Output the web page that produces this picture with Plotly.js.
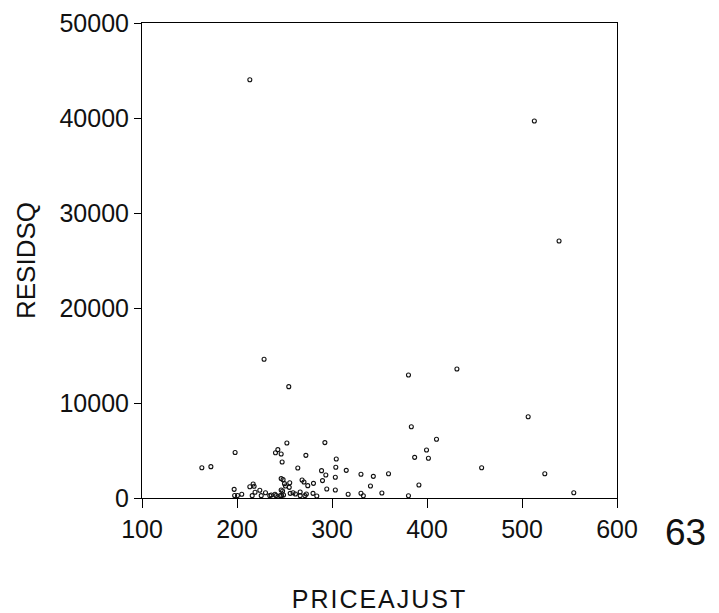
<!DOCTYPE html>
<html>
<head>
<meta charset="utf-8">
<script src="https://cdn.plot.ly/plotly-3.0.1.min.js"></script>
<style>
  html, body { margin: 0; padding: 0; background: #fff; }
  #chart { width: 719px; height: 613px; }
  #chart .xtitle { letter-spacing: 2px; }
</style>
</head>
<body>
<div id="chart"></div>
<script>
// Adjusted price (x) against squared residual (y), one entry per observation
const priceAdjust = [
  163, 172.5, 198, 197, 197.5, 200.5, 205, 213.5, 228.5, 254.5,
  213.5, 217, 218, 216, 219, 224, 225.5, 230, 234.5, 236,
  240, 241, 240.5, 243, 246.5, 247.5, 252.5, 246.5, 248.5, 250,
  251, 255.5, 246.5, 248, 245.5, 247, 249, 255, 256, 259,
  261.5, 266.5, 268.5, 270.5, 274.5, 280.5, 266.5, 271.5, 273, 280,
  284, 264, 272.5, 292.5, 289, 293.5, 290, 294.5, 304.5, 304,
  315, 303.5, 303.5, 317, 330.5, 343.5, 359.5, 340.5, 330.5, 333,
  352.5, 380.5, 383.5, 410, 399.5, 387, 401.5, 391.5, 380.5, 431.5,
  457.5, 506.5, 524, 554.5, 513, 539
];
const residSq = [
  3190, 3300, 4790, 910, 270, 270, 400, 44030, 14600, 11720,
  1190, 1470, 1230, 245, 600, 810, 245, 560, 245, 320,
  390, 245, 4770, 5090, 4630, 3790, 5790, 2040, 1930, 1510,
  1260, 1610, 840, 740, 245, 245, 320, 1120, 490, 560,
  420, 630, 1900, 1680, 1300, 1540, 245, 245, 420, 490,
  210, 3160, 4490, 5830, 2880, 2420, 1830, 950, 4110, 3230,
  2910, 2180, 840, 390, 2500, 2280, 2560, 1260, 500, 240,
  530, 12950, 7500, 6180, 5050, 4280, 4180, 1370, 240, 13580,
  3190, 8560, 2560, 560, 39680, 27050
];
const xTickVals = [100, 200, 300, 400, 500, 600];
const yTickVals = [0, 10000, 20000, 30000, 40000, 50000];
const xLabel = 'PRICEAJUST';
const yLabel = 'RESIDSQ';
const cornerNote = '63';

const fontFamily = 'Arial, "Liberation Sans", sans-serif';

const trace = {
  type: 'scatter',
  mode: 'markers',
  x: priceAdjust,
  y: residSq,
  marker: {
    symbol: 'circle-open',
    size: 4,
    color: '#111',
    line: { width: 1.1, color: '#111' }
  },
  hoverinfo: 'skip'
};

const axisCommon = {
  showgrid: false,
  zeroline: false,
  showline: true,
  mirror: true,
  linecolor: '#000',
  linewidth: 1,
  ticks: 'outside',
  tickcolor: '#000',
  tickwidth: 1,
  tickfont: { family: fontFamily, size: 25, color: '#111' },
  tickmode: 'array'
};

const layout = {
  width: 719,
  height: 613,
  margin: { l: 142, r: 102, t: 23, b: 115 },
  paper_bgcolor: '#fff',
  plot_bgcolor: '#fff',
  showlegend: false,
  font: { family: fontFamily, color: '#000' },
  xaxis: Object.assign({}, axisCommon, {
    range: [100, 600],
    tickvals: xTickVals,
    ticktext: xTickVals.map(String),
    ticklen: 9,
    title: { text: xLabel, font: { family: fontFamily, size: 25, color: '#111' }, standoff: 48 }
  }),
  yaxis: Object.assign({}, axisCommon, {
    range: [0, 50000],
    tickvals: yTickVals,
    ticktext: yTickVals.map(String),
    ticklen: 7,
    title: { text: yLabel, font: { family: fontFamily, size: 26, color: '#111' }, standoff: 16 }
  }),
  annotations: [{
    text: cornerNote,
    xref: 'paper', yref: 'paper',
    x: 1.145, y: -0.072,
    xanchor: 'center', yanchor: 'middle',
    showarrow: false,
    font: { family: fontFamily, size: 37, color: '#111' }
  }]
};

Plotly.newPlot('chart', [trace], layout, { staticPlot: true, displayModeBar: false });
</script>
</body>
</html>
